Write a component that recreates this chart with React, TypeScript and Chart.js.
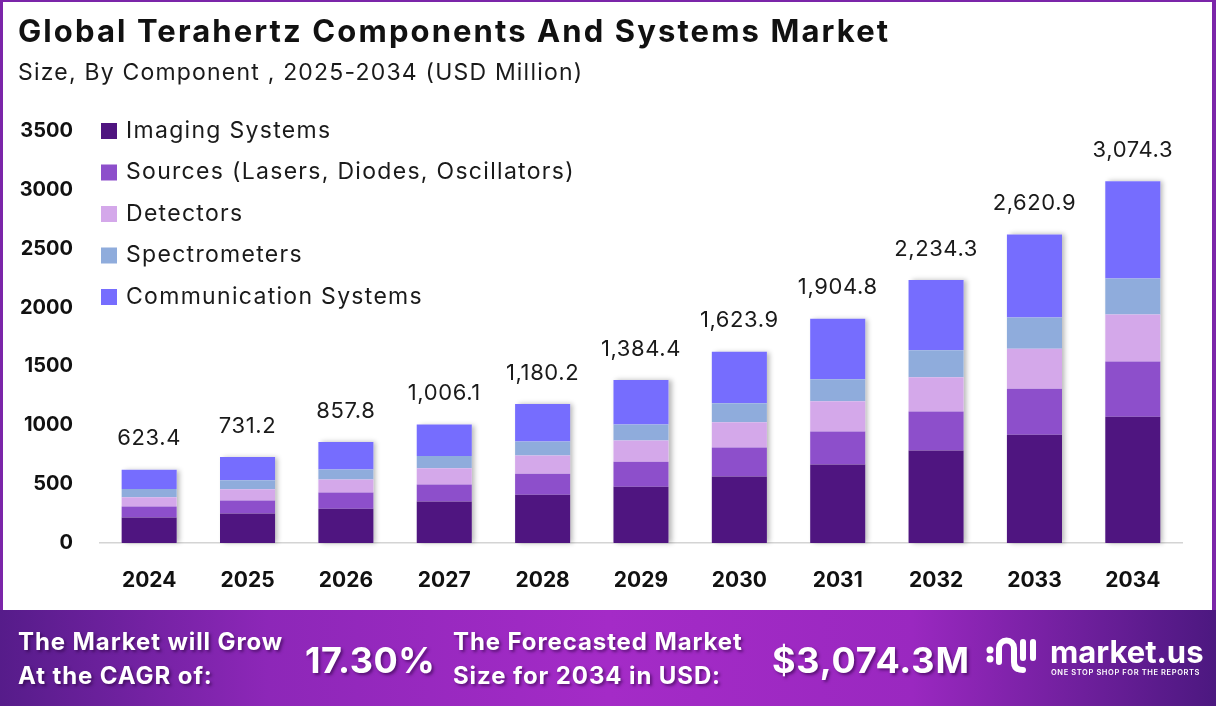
import React, { useEffect, useRef } from 'react';
import { Chart, registerables } from 'chart.js';

Chart.register(...registerables);

const years = ['2024', '2025', '2026', '2027', '2028', '2029', '2030', '2031', '2032', '2033', '2034'];
const imagingSystems = [216, 250, 291, 352, 410, 478, 564, 666, 785, 919, 1073];
const sources = [95, 112, 137, 146, 179, 213, 248, 282, 333, 392, 468];
const detectors = [78, 95, 111, 138, 154, 179, 214, 256, 290, 340, 400];
const spectrometers = [69, 77, 86, 103, 120, 137, 162, 187, 230, 264, 307];
const communicationSystems = [165, 197, 233, 267, 317, 377, 436, 514, 596, 706, 826];
const totals = [623.4, 731.2, 857.8, 1006.1, 1180.2, 1384.4, 1623.9, 1904.8, 2234.3, 2620.9, 3074.3];
const seriesNames = [
  'Imaging Systems',
  'Sources (Lasers, Diodes, Oscillators)',
  'Detectors',
  'Spectrometers',
  'Communication Systems',
];
const seriesColors = ['#4f1580', '#8d4fcb', '#d4a8ea', '#8facdc', '#766dfe'];

const FONT = 'Inter, "Noto Sans", sans-serif';

const shadowPlugin = {
  id: 'barShadow',
  beforeDatasetsDraw(chart: any) {
    const ctx = chart.ctx;
    const first = chart.getDatasetMeta(0);
    const last = chart.getDatasetMeta(chart.data.datasets.length - 1);
    ctx.save();
    ctx.shadowColor = 'rgba(0,0,0,0.28)';
    ctx.shadowBlur = 5;
    ctx.shadowOffsetX = 3;
    ctx.shadowOffsetY = 0;
    ctx.fillStyle = '#ffffff';
    first.data.forEach((el: any, i: number) => {
      const top = last.data[i].y;
      const bottom = el.base;
      const w = el.width;
      ctx.fillRect(el.x - w / 2, top, w, bottom - top);
    });
    ctx.restore();
  },
};

const totalsPlugin = {
  id: 'totals',
  afterDatasetsDraw(chart: any) {
    const ctx = chart.ctx;
    const last = chart.getDatasetMeta(chart.data.datasets.length - 1);
    ctx.save();
    ctx.font = `400 22px ${FONT}`;
    (ctx as any).letterSpacing = '0.6px';
    ctx.fillStyle = '#1a1a1a';
    ctx.textAlign = 'center';
    ctx.textBaseline = 'middle';
    last.data.forEach((el: any, i: number) => {
      const txt = totals[i].toLocaleString('en-US', { minimumFractionDigits: 1, maximumFractionDigits: 1 });
      ctx.fillText(txt, el.x, el.y - 31);
    });
    ctx.restore();
  },
};

const legendPlugin = {
  id: 'customLegend',
  afterDraw(chart: any) {
    const ctx = chart.ctx;
    ctx.save();
    ctx.font = `400 23px ${FONT}`;
    (ctx as any).letterSpacing = '1.3px';
    ctx.textBaseline = 'middle';
    ctx.textAlign = 'left';
    chart.data.datasets.forEach((ds: any, i: number) => {
      const y = 131 + i * 41.5;
      ctx.fillStyle = ds.backgroundColor;
      ctx.fillRect(101, y - 8, 16, 16);
      ctx.fillStyle = '#1a1a1a';
      ctx.fillText(ds.label, 126, y);
    });
    ctx.restore();
  },
};

function Logo() {
  return (
    <svg width="58" height="46" viewBox="0 0 58 46" style={{ position: 'absolute', left: 984, top: 634 }}>
      <circle cx="6" cy="16" r="3.5" fill="#fff" />
      <circle cx="6" cy="25" r="3.5" fill="#fff" />
      <path d="M15 28 V14 a7.5 7.5 0 0 1 15 0 V28 q0 8 9 8" stroke="#fff" strokeWidth="6" fill="none" strokeLinecap="round" />
      <path d="M39 8 V24 M49 8 V24" stroke="#fff" strokeWidth="6" fill="none" strokeLinecap="round" />
    </svg>
  );
}

export default function App() {
  const canvasRef = useRef<HTMLCanvasElement>(null);

  useEffect(() => {
    document.body.style.margin = '0';
    const ctx = canvasRef.current!.getContext('2d')!;
    const data = [imagingSystems, sources, detectors, spectrometers, communicationSystems];
    const chart = new Chart(ctx, {
      type: 'bar',
      data: {
        labels: years,
        datasets: data.map((d, i) => ({
          label: seriesNames[i],
          data: d,
          backgroundColor: seriesColors[i],
          borderWidth: 0,
          barPercentage: 0.56,
          categoryPercentage: 1,
        })),
      },
      options: {
        responsive: false,
        devicePixelRatio: 1,
        animation: false,
        layout: { padding: { top: 131, right: 34, left: 0, bottom: 0 } },
        plugins: {
          legend: { display: false },
          tooltip: { enabled: false },
          title: { display: false },
        },
        scales: {
          x: {
            stacked: true,
            grid: { display: false, drawTicks: false },
            border: { display: true, color: '#d4d4d4', width: 1.5 },
            ticks: {
              padding: 25,
              color: '#111',
              font: { family: FONT, size: 21, weight: 'bold' },
            },
            afterFit(scale: any) {
              scale.height = 67;
            },
          },
          y: {
            stacked: true,
            min: 0,
            max: 3500,
            grid: { display: false, drawTicks: false },
            border: { display: false },
            ticks: {
              stepSize: 500,
              padding: 27,
              color: '#111',
              font: { family: FONT, size: 20, weight: 'bold' },
              callback: (v: any) => String(v),
            },
            afterFit(scale: any) {
              scale.width = 100;
            },
          },
        },
      },
      plugins: [shadowPlugin, totalsPlugin, legendPlugin],
    });
    return () => chart.destroy();
  }, []);

  const bannerText: React.CSSProperties = {
    position: 'absolute',
    color: '#fff',
    fontFamily: FONT,
    fontWeight: 700,
    textShadow: '2px 2px 3px rgba(40,0,60,0.55)',
    whiteSpace: 'nowrap',
    lineHeight: '34px',
  };

  return (
    <div style={{ position: 'absolute', left: 0, top: 0, width: 1216, height: 706, background: '#fff', overflow: 'hidden' }}>
      <canvas ref={canvasRef} width={1216} height={610} style={{ position: 'absolute', left: 0, top: 0, width: 1216, height: 610 }} />
      <div
        style={{
          position: 'absolute',
          left: 0,
          top: 0,
          width: 1216,
          height: 612,
          boxSizing: 'border-box',
          borderLeft: '3px solid #7b25a9',
          borderRight: '4px solid #7b25a9',
          borderTop: '2px solid #7b25a9',
          pointerEvents: 'none',
        }}
      />
      <div style={{ position: 'absolute', left: 18, top: 11, fontFamily: FONT, fontWeight: 700, fontSize: 31, letterSpacing: 2.1, color: '#111', whiteSpace: 'nowrap', lineHeight: '40px' }}>
        Global Terahertz Components And Systems Market
      </div>
      <div style={{ position: 'absolute', left: 18, top: 56, fontFamily: FONT, fontWeight: 400, fontSize: 23, letterSpacing: 1.2, color: '#1a1a1a', whiteSpace: 'nowrap', lineHeight: '32px' }}>
        Size, By Component , 2025-2034 (USD Million)
      </div>
      <div
        style={{
          position: 'absolute',
          left: 0,
          top: 610,
          width: 1216,
          height: 96,
          background: 'linear-gradient(90deg, #561c8a 0%, #8d27b8 22%, #a42bc7 50%, #9a28c0 75%, #4c1880 100%)',
        }}
      >
        <div style={{ ...bannerText, left: 18, top: 15, fontSize: 24, letterSpacing: 0.9 }}>The Market will Grow</div>
        <div style={{ ...bannerText, left: 18, top: 49, fontSize: 24, letterSpacing: 0.9 }}>At the CAGR of:</div>
        <div style={{ ...bannerText, left: 305, top: 28, fontSize: 36, letterSpacing: 0.5, lineHeight: '44px' }}>17.30%</div>
        <div style={{ ...bannerText, left: 453, top: 15, fontSize: 24, letterSpacing: 0.9 }}>The Forecasted Market</div>
        <div style={{ ...bannerText, left: 453, top: 49, fontSize: 24, letterSpacing: 0.9 }}>Size for 2034 in USD:</div>
        <div style={{ ...bannerText, left: 772, top: 28, fontSize: 36, letterSpacing: 0.8, lineHeight: '44px' }}>$3,074.3M</div>
        <div style={{ ...bannerText, left: 1050, top: 24, fontSize: 31, lineHeight: '36px', textShadow: 'none' }}>market.us</div>
        <div style={{ ...bannerText, left: 1051, top: 58, fontSize: 7.5, lineHeight: '10px', fontWeight: 600, letterSpacing: 0.6, textShadow: 'none' }}>
          ONE STOP SHOP FOR THE REPORTS
        </div>
      </div>
      <Logo />
    </div>
  );
}
